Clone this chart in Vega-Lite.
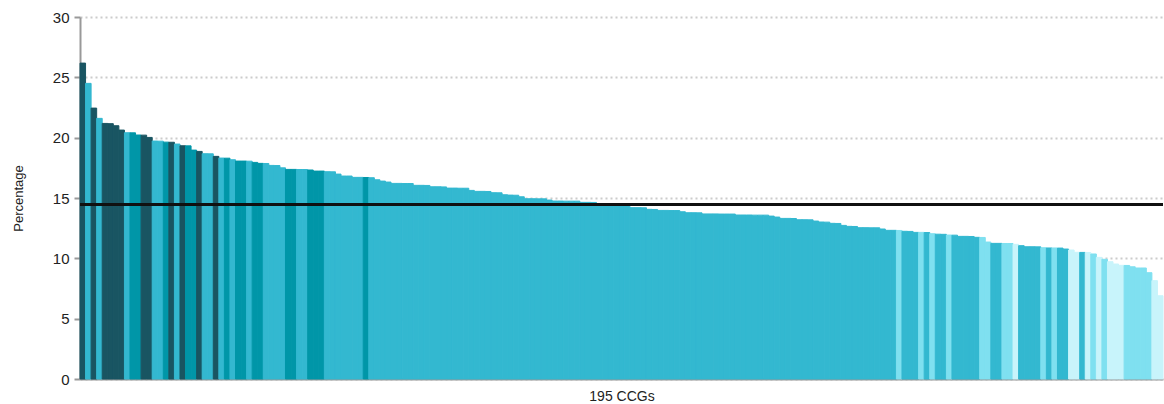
{
  "$schema": "https://vega.github.io/schema/vega-lite/v6.json",
  "width": 1083,
  "height": 362,
  "autosize": {"type": "none"},
  "padding": {"left": 80, "top": 17, "right": 1, "bottom": 25},
  "background": "#ffffff",
  "config": {
    "font": "Liberation Sans",
    "view": {"stroke": null}
  },
  "data": {"values": [
    {"i":0,"c":"D","v":26.18},{"i":1,"c":"S","v":24.5},{"i":2,"c":"D","v":22.45},{"i":3,"c":"S","v":21.6},{"i":4,"c":"D","v":21.18},
    {"i":5,"c":"D","v":21.16},{"i":6,"c":"D","v":20.99},{"i":7,"c":"D","v":20.63},{"i":8,"c":"S","v":20.41},{"i":9,"c":"M","v":20.4},
    {"i":10,"c":"M","v":20.22},{"i":11,"c":"D","v":20.21},{"i":12,"c":"D","v":20.02},{"i":13,"c":"S","v":19.72},{"i":14,"c":"S","v":19.71},
    {"i":15,"c":"M","v":19.63},{"i":16,"c":"D","v":19.62},{"i":17,"c":"S","v":19.47},{"i":18,"c":"D","v":19.33},{"i":19,"c":"M","v":19.32},
    {"i":20,"c":"M","v":18.97},{"i":21,"c":"D","v":18.86},{"i":22,"c":"S","v":18.67},{"i":23,"c":"S","v":18.66},{"i":24,"c":"D","v":18.45},
    {"i":25,"c":"S","v":18.31},{"i":26,"c":"M","v":18.3},{"i":27,"c":"S","v":18.17},{"i":28,"c":"M","v":18.06},{"i":29,"c":"M","v":18.06},
    {"i":30,"c":"S","v":18.05},{"i":31,"c":"M","v":17.95},{"i":32,"c":"M","v":17.87},{"i":33,"c":"S","v":17.86},{"i":34,"c":"S","v":17.7},
    {"i":35,"c":"S","v":17.69},{"i":36,"c":"S","v":17.5},{"i":37,"c":"M","v":17.37},{"i":38,"c":"M","v":17.37},{"i":39,"c":"S","v":17.36},
    {"i":40,"c":"S","v":17.36},{"i":41,"c":"M","v":17.32},{"i":42,"c":"M","v":17.23},{"i":43,"c":"M","v":17.23},{"i":44,"c":"S","v":17.18},
    {"i":45,"c":"S","v":17.17},{"i":46,"c":"S","v":16.98},{"i":47,"c":"S","v":16.82},{"i":48,"c":"S","v":16.82},{"i":49,"c":"S","v":16.71},
    {"i":50,"c":"S","v":16.71},{"i":51,"c":"M","v":16.7},{"i":52,"c":"S","v":16.68},{"i":53,"c":"S","v":16.51},{"i":54,"c":"S","v":16.4},
    {"i":55,"c":"S","v":16.32},{"i":56,"c":"S","v":16.21},{"i":57,"c":"S","v":16.21},{"i":58,"c":"S","v":16.2},{"i":59,"c":"S","v":16.2},
    {"i":60,"c":"S","v":16.05},{"i":61,"c":"S","v":16.05},{"i":62,"c":"S","v":16.04},{"i":63,"c":"S","v":15.93},{"i":64,"c":"S","v":15.93},
    {"i":65,"c":"S","v":15.92},{"i":66,"c":"S","v":15.82},{"i":67,"c":"S","v":15.82},{"i":68,"c":"S","v":15.81},{"i":69,"c":"S","v":15.81},
    {"i":70,"c":"S","v":15.63},{"i":71,"c":"S","v":15.55},{"i":72,"c":"S","v":15.55},{"i":73,"c":"S","v":15.54},{"i":74,"c":"S","v":15.44},
    {"i":75,"c":"S","v":15.43},{"i":76,"c":"S","v":15.27},{"i":77,"c":"S","v":15.24},{"i":78,"c":"S","v":15.23},{"i":79,"c":"S","v":15.1},
    {"i":80,"c":"S","v":14.94},{"i":81,"c":"S","v":14.94},{"i":82,"c":"S","v":14.93},{"i":83,"c":"S","v":14.93},{"i":84,"c":"S","v":14.83},
    {"i":85,"c":"S","v":14.75},{"i":86,"c":"S","v":14.75},{"i":87,"c":"S","v":14.74},{"i":88,"c":"S","v":14.74},{"i":89,"c":"S","v":14.74},
    {"i":90,"c":"S","v":14.64},{"i":91,"c":"S","v":14.64},{"i":92,"c":"S","v":14.63},{"i":93,"c":"S","v":14.5},{"i":94,"c":"S","v":14.5},
    {"i":95,"c":"S","v":14.49},{"i":96,"c":"S","v":14.49},{"i":97,"c":"S","v":14.48},{"i":98,"c":"S","v":14.42},{"i":99,"c":"S","v":14.2},
    {"i":100,"c":"S","v":14.2},{"i":101,"c":"S","v":14.19},{"i":102,"c":"S","v":14.06},{"i":103,"c":"S","v":14.05},{"i":104,"c":"S","v":13.97},
    {"i":105,"c":"S","v":13.97},{"i":106,"c":"S","v":13.96},{"i":107,"c":"S","v":13.96},{"i":108,"c":"S","v":13.86},{"i":109,"c":"S","v":13.78},
    {"i":110,"c":"S","v":13.78},{"i":111,"c":"S","v":13.77},{"i":112,"c":"S","v":13.68},{"i":113,"c":"S","v":13.68},{"i":114,"c":"S","v":13.68},
    {"i":115,"c":"S","v":13.67},{"i":116,"c":"S","v":13.67},{"i":117,"c":"S","v":13.67},{"i":118,"c":"S","v":13.59},{"i":119,"c":"S","v":13.59},
    {"i":120,"c":"S","v":13.59},{"i":121,"c":"S","v":13.58},{"i":122,"c":"S","v":13.58},{"i":123,"c":"S","v":13.58},{"i":124,"c":"S","v":13.5},
    {"i":125,"c":"S","v":13.42},{"i":126,"c":"S","v":13.31},{"i":127,"c":"S","v":13.31},{"i":128,"c":"S","v":13.3},{"i":129,"c":"S","v":13.2},
    {"i":130,"c":"S","v":13.2},{"i":131,"c":"S","v":13.19},{"i":132,"c":"S","v":13.09},{"i":133,"c":"S","v":13.01},{"i":134,"c":"S","v":13.0},
    {"i":135,"c":"S","v":12.9},{"i":136,"c":"S","v":12.89},{"i":137,"c":"S","v":12.73},{"i":138,"c":"S","v":12.65},{"i":139,"c":"S","v":12.64},
    {"i":140,"c":"S","v":12.54},{"i":141,"c":"S","v":12.54},{"i":142,"c":"S","v":12.53},{"i":143,"c":"S","v":12.53},{"i":144,"c":"S","v":12.43},
    {"i":145,"c":"S","v":12.32},{"i":146,"c":"S","v":12.32},{"i":147,"c":"L","v":12.31},{"i":148,"c":"S","v":12.24},{"i":149,"c":"S","v":12.23},
    {"i":150,"c":"S","v":12.15},{"i":151,"c":"L","v":12.15},{"i":152,"c":"S","v":12.14},{"i":153,"c":"L","v":12.04},{"i":154,"c":"S","v":12.0},
    {"i":155,"c":"S","v":11.99},{"i":156,"c":"L","v":11.93},{"i":157,"c":"S","v":11.92},{"i":158,"c":"S","v":11.82},{"i":159,"c":"S","v":11.82},
    {"i":160,"c":"S","v":11.81},{"i":161,"c":"S","v":11.74},{"i":162,"c":"L","v":11.73},{"i":163,"c":"L","v":11.35},{"i":164,"c":"S","v":11.24},
    {"i":165,"c":"S","v":11.24},{"i":166,"c":"L","v":11.23},{"i":167,"c":"L","v":11.23},{"i":168,"c":"V","v":11.16},{"i":169,"c":"S","v":11.05},
    {"i":170,"c":"S","v":10.96},{"i":171,"c":"S","v":10.96},{"i":172,"c":"S","v":10.95},{"i":173,"c":"L","v":10.88},{"i":174,"c":"S","v":10.86},
    {"i":175,"c":"L","v":10.86},{"i":176,"c":"S","v":10.85},{"i":177,"c":"S","v":10.77},{"i":178,"c":"V","v":10.69},{"i":179,"c":"V","v":10.5},
    {"i":180,"c":"S","v":10.49},{"i":181,"c":"V","v":10.48},{"i":182,"c":"L","v":10.36},{"i":183,"c":"V","v":10.08},{"i":184,"c":"L","v":9.92},
    {"i":185,"c":"V","v":9.72},{"i":186,"c":"V","v":9.53},{"i":187,"c":"V","v":9.42},{"i":188,"c":"L","v":9.41},{"i":189,"c":"L","v":9.3},
    {"i":190,"c":"L","v":9.2},{"i":191,"c":"L","v":9.2},{"i":192,"c":"L","v":8.81},{"i":193,"c":"V","v":8.15},{"i":194,"c":"V","v":6.9}
  ]},
  "layer": [
    {
      "mark": {"type": "bar", "strokeWidth": 1},
      "encoding": {
        "x": {
          "field": "i", "type": "ordinal",
          "scale": {"paddingInner": 0, "paddingOuter": 0},
          "axis": {
            "title": "195 CCGs", "labels": false, "ticks": false,
            "domainColor": "#999999", "domainWidth": 2,
            "titleFont": "Liberation Sans", "titleFontSize": 14, "titleFontWeight": "normal",
            "titleColor": "#222222", "titlePadding": 10
          }
        },
        "y": {
          "field": "v", "type": "quantitative",
          "scale": {"domain": [0, 30], "nice": false},
          "axis": {
            "title": "Percentage", "values": [0, 5, 10, 15, 20, 25, 30],
            "domainColor": "#999999", "domainWidth": 2,
            "tickColor": "#999999", "tickSize": 6, "tickWidth": 2,
            "labelFont": "Liberation Sans", "labelFontSize": 15, "labelColor": "#222222", "labelPadding": 5,
            "grid": true, "gridColor": "#cccccc", "gridWidth": 2, "gridDash": [2, 3],
            "titleFont": "Liberation Sans", "titleFontSize": 13, "titleFontWeight": "normal",
            "titleColor": "#222222", "titlePadding": 27
          }
        },
        "color": {
          "field": "c", "type": "nominal",
          "scale": {"domain": ["D", "M", "S", "L", "V"], "range": ["#195562", "#0096a8", "#33b8d0", "#7fe0f0", "#c8f4fb"]},
          "legend": null
        },
        "stroke": {
          "field": "c", "type": "nominal",
          "scale": {"domain": ["D", "M", "S", "L", "V"], "range": ["#195562", "#0096a8", "#33b8d0", "#7fe0f0", "#c8f4fb"]},
          "legend": null
        }
      }
    },
    {
      "mark": {"type": "rule", "color": "#111111", "strokeWidth": 2},
      "encoding": {"y": {"datum": 14.45}}
    }
  ]
}
